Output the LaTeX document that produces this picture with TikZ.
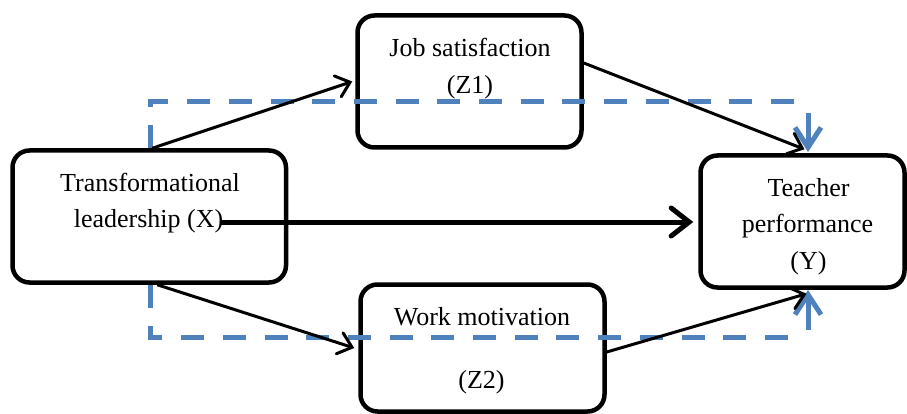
\documentclass[tikz,border=0pt]{standalone}
\usepackage{fontspec}
\setmainfont{Liberation Serif}
\usetikzlibrary{arrows.meta,calc}
\definecolor{dashblue}{RGB}{79,129,189}
\begin{document}
\begin{tikzpicture}[x=1pt,y=-1pt,
  box/.style={draw=black,line width=4.5pt,rounded corners=17pt,inner sep=0pt,fill=none},
  txt/.style={inner sep=0pt,anchor=base,font=\fontsize{26}{31}\selectfont},
  conn/.style={line width=3pt,-{Straight Barb[length=13pt,width=22pt,line cap=round]}},
  thick conn/.style={line width=5pt,-{Straight Barb[length=18pt,width=28pt,line cap=round]}},
  bluedash/.style={draw=dashblue,line width=5pt,dash pattern=on 23pt off 18.7pt},
  bluearrow/.style={draw=dashblue,line width=5pt,-{Straight Barb[length=20pt,width=26pt]}}]
\useasboundingbox (0,0) rectangle (907,414);
% boxes
\node[box,minimum width=273.5pt,minimum height=132pt] (X) at (149.25,216.5) {};
\node[box,minimum width=224pt,minimum height=132pt] (Z1) at (469.5,81.5) {};
\node[box,minimum width=244pt,minimum height=127pt] (Z2) at (482.5,348) {};
\node[box,minimum width=204pt,minimum height=132pt] (Y) at (802.5,221.5) {};
% texts
\node[txt] (tx1) at (150,191.5) {Transformational};
\node[txt] (tx2) at (148.5,227) {leadership (X)};
\node[txt] (tz1a) at (470,57) {Job satisfaction};
\node[txt] (tz1b) at (470,93.5) {(Z1)};
\node[txt] (tz2a) at (482,325) {Work motivation};
\node[txt] (tz2b) at (481.5,388) {(Z2)};
\node[txt] (ty1) at (808.5,196.5) {Teacher};
\node[txt] (ty2) at (807.5,233) {performance};
\node[txt] (ty3) at (808.5,269) {(Y)};
% blue dashed paths
\coordinate (dtop) at (800,102);
\coordinate (dbot) at (795,337);
\draw[bluedash] ([xshift=0.75pt]X.north) |- (dtop);
\draw[bluedash] ([xshift=0.75pt]X.south) |- (dbot);
\coordinate (ba1) at (808,113);
\coordinate (ba1e) at (808,152);
\coordinate (ba2) at (808,330);
\coordinate (ba2e) at (808,290);
\draw[bluearrow] (ba1) -- (ba1e);
\draw[bluearrow] (ba2) -- (ba2e);
% black connectors
\draw[conn] ([xshift=3pt]X.north) -- ([xshift=-3pt]Z1.west);
\draw[conn] ([xshift=8pt]X.south) -- ([xshift=-4pt]Z2.west);
\coordinate (xs) at (220,222);
\draw[thick conn] (xs) -- ([xshift=-5pt]xs -| Y.west);
\draw[conn] ([yshift=18.5pt]Z1.east) -- ([xshift=2pt,yshift=4pt]Y.north);
\draw[conn] ([yshift=-4pt]Z2.east) -- ([xshift=4pt,yshift=-4pt]Y.south);
\end{tikzpicture}
\end{document}
